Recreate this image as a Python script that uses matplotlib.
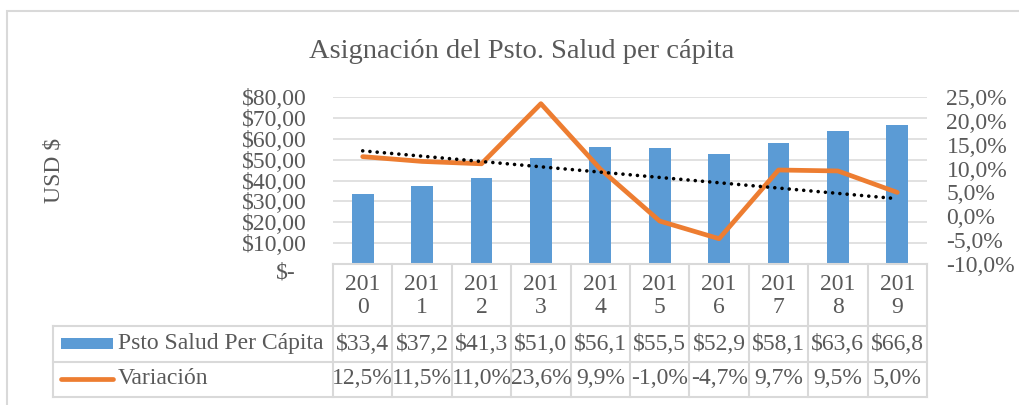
import numpy as np
import matplotlib
matplotlib.use("Agg")
import matplotlib.pyplot as plt
import matplotlib.transforms as mtransforms
from matplotlib.patches import Rectangle

plt.rcParams['font.family'] = ['Liberation Serif', 'DejaVu Serif']

years = ["2010", "2011", "2012", "2013", "2014", "2015", "2016", "2017", "2018", "2019"]
psto = [33.4, 37.2, 41.3, 51.0, 56.1, 55.5, 52.9, 58.1, 63.6, 66.8]
variacion = [12.5, 11.5, 11.0, 23.6, 9.9, -1.0, -4.7, 9.7, 9.5, 5.0]

W, H = 1019, 405
TXT = "#595959"
GRID = "#D9D9D9"
BLUE = "#5B9BD5"
ORANGE = "#ED7D31"

fig = plt.figure(figsize=(W / 100, H / 100), dpi=100)


def fy(py):
    return 1 - py / H


def fx(px):
    return px / W


# plot area in pixels: x 333..927, y 97..264
ax = fig.add_axes([fx(333), fy(264), fx(927 - 333), (264 - 97) / H])
ax2 = ax.twinx()

x = np.arange(len(years))
ax.bar(x, psto, width=0.37, color=BLUE, zorder=2)
ax.set_xlim(-0.5, len(years) - 0.5)
ax.set_ylim(0, 80)
ax.set_yticks(np.arange(0, 81, 10))
ax.yaxis.grid(True, color=GRID, linewidth=1.1)
ax.set_axisbelow(True)
ax.set_yticklabels(["$-"] + [f"${v:.2f}".replace(".", ",") for v in range(10, 81, 10)])

ax2.plot(x, variacion, color=ORANGE, lw=3.4, solid_capstyle="round",
         solid_joinstyle="round", zorder=3)
# linear trendline of the variation
slope, icpt = np.polyfit(x, variacion, 1)
ax2.plot(x, slope * x + icpt, color="black", lw=2.6, dashes=(0.01, 2.0),
         dash_capstyle="round", zorder=4)
ax2.set_ylim(-10, 25)
ax2.set_yticks(np.arange(-10, 26, 5))
ax2.set_yticklabels([f"{v:.1f}%".replace(".", ",") for v in range(-10, 26, 5)])

for a in (ax, ax2):
    for s in a.spines.values():
        s.set_visible(False)
    a.tick_params(length=0, labelsize=17, labelcolor=TXT)
    a.set_xticks([])
ax.tick_params(axis="y", pad=19)
ax2.tick_params(axis="y", pad=14)

# "$-" label sits a little lower and further left, as in Excel
lbl = ax.get_yticklabels()[0]
lbl.set_transform(lbl.get_transform() + mtransforms.ScaledTranslation(-0.11, -0.06, fig.dpi_scale_trans))

# data table below the plot
bt = mtransforms.blended_transform_factory(ax.transData, fig.transFigure)
ft = fig.transFigure
lkw = dict(color=GRID, lw=1.5, clip_on=False)
for py in (326, 362, 397):
    fig.add_artist(plt.Line2D([fx(53), fx(927)], [fy(py), fy(py)], transform=ft, **lkw))
fig.add_artist(plt.Line2D([fx(333), fx(927)], [fy(264), fy(264)], transform=ft, **lkw))
for b in np.arange(-0.5, len(years), 1.0):
    ax.add_artist(plt.Line2D([b, b], [fy(264), fy(397)], transform=bt, **lkw))
fig.add_artist(plt.Line2D([fx(53), fx(53)], [fy(326), fy(397)], transform=ft, **lkw))

for i, yr in enumerate(years):
    ax.text(i, fy(296), yr[:3] + "\n" + yr[3:], transform=bt, ha="center", va="center",
            fontsize=17, color=TXT, linespacing=1.1)
    ax.text(i, fy(344), f"${psto[i]:.1f}".replace(".", ","), transform=bt,
            ha="center", va="center", fontsize=17, color=TXT)
    ax.text(i, fy(379), f"{variacion[i]:.1f}%".replace(".", ","), transform=bt,
            ha="center", va="center", fontsize=17, color=TXT)

# legend keys in the table
fig.add_artist(Rectangle((fx(61), fy(349)), fx(52), 11 / H, transform=ft,
                         color=BLUE, lw=0))
fig.add_artist(plt.Line2D([fx(61), fx(113)], [fy(379), fy(379)], transform=ft,
                          color=ORANGE, lw=3.4, solid_capstyle="round"))
fig.text(fx(118), fy(344), "Psto Salud Per Cápita", ha="left", va="center",
         fontsize=17, color=TXT)
fig.text(fx(118), fy(379), "Variación", ha="left", va="center", fontsize=17, color=TXT)

fig.text(fx(522), fy(52), "Asignación del Psto. Salud per cápita", ha="center",
         va="center", fontsize=20.5, color=TXT)
fig.text(fx(54), fy(170), "USD $", ha="center", va="center", rotation=90,
         fontsize=17, color=TXT)

# chart border
fig.add_artist(Rectangle((fx(7), fy(440)), fx(1100), 429 / H, transform=ft,
                         fill=False, edgecolor=GRID, lw=1.5, clip_on=False))

fig.savefig("out.png", dpi=100)
